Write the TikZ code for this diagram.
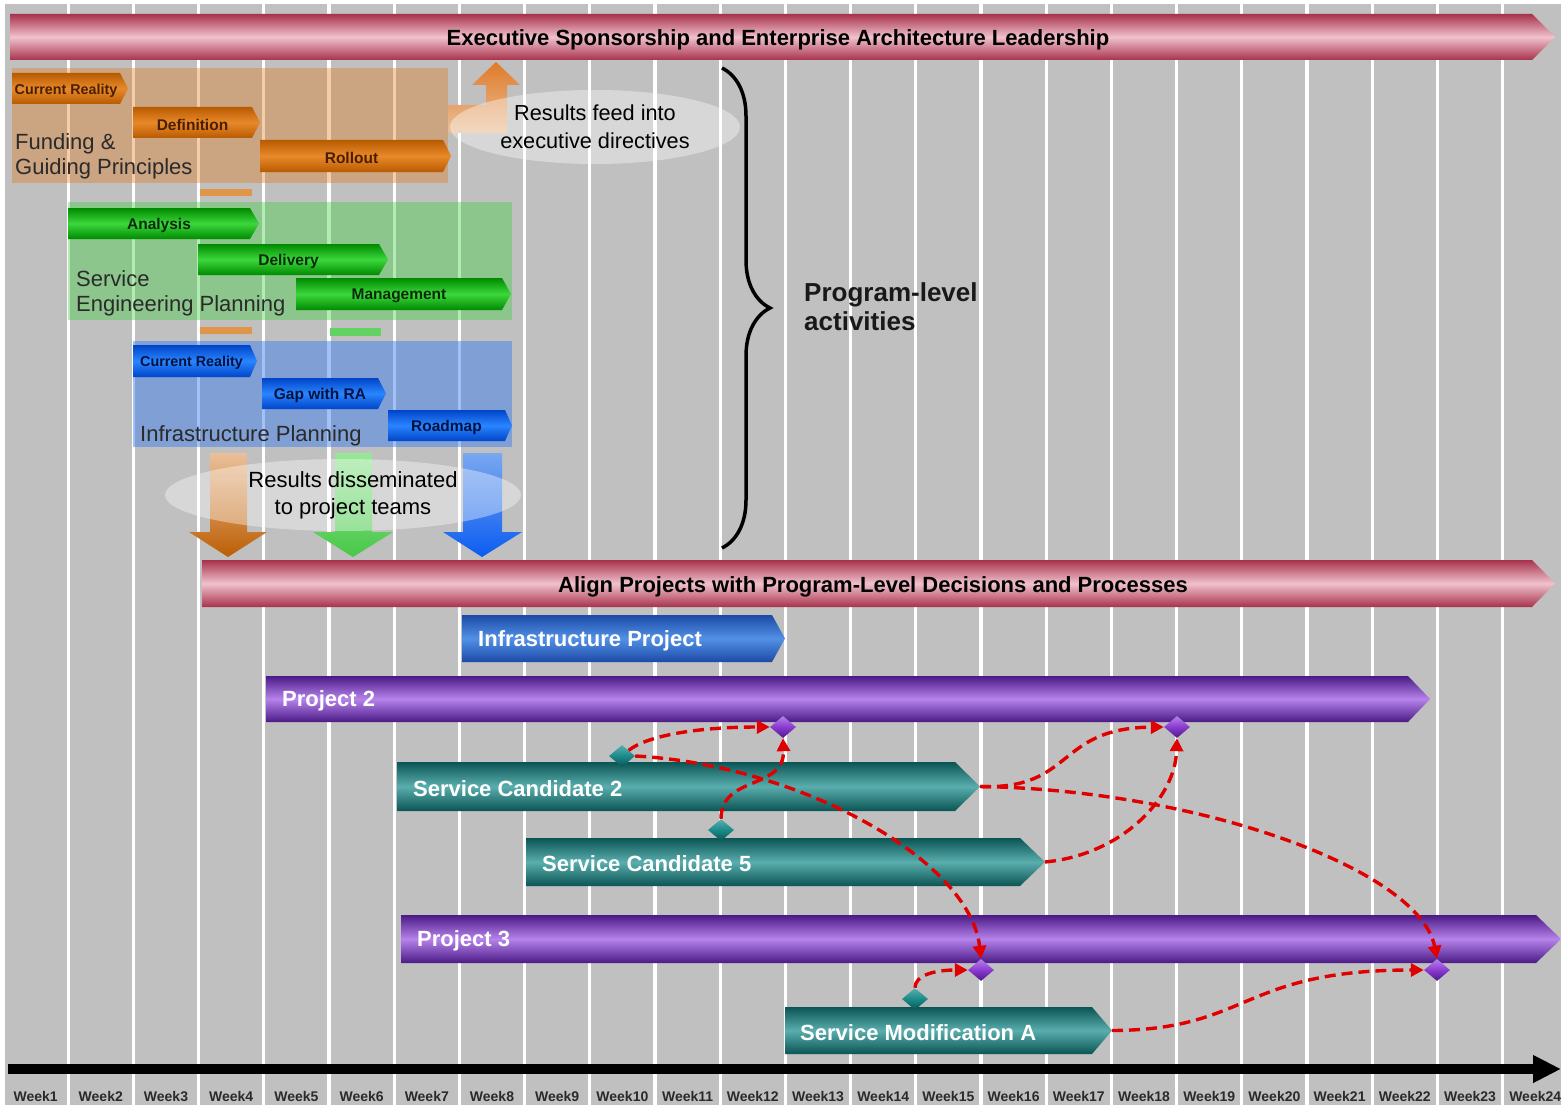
\documentclass[tikz,border=0pt]{standalone}
\usepackage{fontspec}
\setmainfont{Liberation Sans}
\usetikzlibrary{arrows.meta,shapes.geometric,decorations.pathreplacing}

\definecolor{bggray}{HTML}{C0C0C0}
\definecolor{bandark}{HTML}{A8324C}
\definecolor{bandmid}{HTML}{F0C2CD}
\definecolor{orgdark}{HTML}{B85A00}
\definecolor{orgmid}{HTML}{E88A2A}
\definecolor{orggrp}{HTML}{E07010}
\definecolor{orgtop}{HTML}{E07A2A}
\definecolor{orglight}{HTML}{EAC09A}
\definecolor{grndark}{HTML}{008A00}
\definecolor{grnmid}{HTML}{3CD83C}
\definecolor{grngrp}{HTML}{40D040}
\definecolor{grnlight}{HTML}{9AE69A}
\definecolor{grnarrow}{HTML}{48C848}
\definecolor{bludark}{HTML}{0045C8}
\definecolor{blumid}{HTML}{2A85FF}
\definecolor{blugrp}{HTML}{3377EE}
\definecolor{blulight}{HTML}{7AA8F0}
\definecolor{bluarrow}{HTML}{0A5CF0}
\definecolor{ipdark}{HTML}{1C4AA6}
\definecolor{ipmid}{HTML}{5290E6}
\definecolor{purdark}{HTML}{4C1A86}
\definecolor{purmid}{HTML}{B583EA}
\definecolor{purdiam}{HTML}{8A3AD0}
\definecolor{tealdark}{HTML}{0B5454}
\definecolor{tealmid}{HTML}{5AAEAE}
\definecolor{tealdiam}{HTML}{1A8A8A}
\definecolor{depred}{HTML}{E00000}
\definecolor{txtgray}{HTML}{2A2A2A}
\definecolor{orgtxt}{HTML}{4A1E00}
\definecolor{grntxt}{HTML}{0A2A0A}
\definecolor{blutxt}{HTML}{00123F}

% bar with a pointed right end: name, x-left, x-right, tip length, y-top, y-bottom, style
\newcommand\gbar[7]{%
  \path[#7] (#2,#5) -- ({#3-#4},#5) -- (#3,{(#5+#6)/2}) -- ({#3-#4},#6) -- (#2,#6) -- cycle;
  \coordinate (#1-w) at (#2,{(#5+#6)/2});
  \coordinate (#1-e) at (#3,{(#5+#6)/2});
  \coordinate (#1-c) at ({(#2+#3-#4)/2},{(#5+#6)/2});
}

\begin{document}
\begin{tikzpicture}[x=1pt,y=-1pt,
  banner/.style={top color=bandark, bottom color=bandark, middle color=bandmid},
  orgbar/.style={top color=orgdark, bottom color=orgdark, middle color=orgmid},
  grnbar/.style={top color=grndark, bottom color=grndark, middle color=grnmid},
  blubar/.style={top color=bludark, bottom color=bludark, middle color=blumid},
  ipbar/.style={top color=ipdark, bottom color=ipdark, middle color=ipmid},
  purbar/.style={top color=purdark, bottom color=purdark, middle color=purmid},
  tealbar/.style={top color=tealdark, bottom color=tealdark, middle color=tealmid},
  smalltxt/.style={font=\fontsize{15.5}{17}\selectfont\bfseries, inner sep=0pt, yshift=-2pt},
  tighttxt/.style={smalltxt, font=\fontsize{14.3}{17}\selectfont\bfseries},
  bigtxt/.style={font=\fontsize{22}{26}\selectfont\bfseries, text=white, inner sep=0pt, anchor=west, yshift=-2pt},
  bantxt/.style={font=\fontsize{22}{26}\selectfont\bfseries, text=black, inner sep=0pt, yshift=-2.5pt},
  grptxt/.style={font=\fontsize{22}{25}\selectfont, text=txtgray, inner sep=0pt, align=left, anchor=west, yshift=-2pt},
  haze/.style={ellipse, fill=white, fill opacity=0.38, text opacity=1, inner sep=0pt,
    font=\fontsize{21.7}{28}\selectfont, text=black, align=center},
  pdiam/.style={diamond, minimum width=26pt, minimum height=22pt, inner sep=0pt,
    top color=purmid, bottom color=purdark, middle color=purdiam},
  tdiam/.style={diamond, minimum width=26pt, minimum height=22pt, inner sep=0pt,
    top color=tealmid, bottom color=tealdark, middle color=tealdiam},
  dep/.style={draw=depred, line width=3.4pt, dash pattern=on 11pt off 6pt,
    -{Triangle[length=13pt,width=13pt]}},
  weeklbl/.style={font=\fontsize{14}{15}\selectfont\bfseries, text=txtgray, inner sep=0pt, yshift=-1pt}
]
\useasboundingbox (0,0) rectangle (1561,1105);
\clip (0,0) rectangle (1561,1105);

% canvas and week grid
\fill[white] (0,0) rectangle (1561,1105);
\fill[bggray] (5,4) rectangle (1561,1105);
\foreach \k in {1,...,23} \fill[white] ({3+65.2*\k-1.6},4) rectangle ({3+65.2*\k+1.6},1105);

% program-level groups
\fill[orggrp, fill opacity=0.35] (12,68) rectangle (448,183);
\fill[grngrp, fill opacity=0.40] (68,202) rectangle (512,320);
\fill[blugrp, fill opacity=0.45] (133,341) rectangle (512,447);

% hand-off markers between groups
\fill[orgmid!80!bggray] (200,189) rectangle (252,196);
\fill[orgmid!80!bggray] (200,327) rectangle (252,334);
\fill[grnmid!70!bggray] (330,328) rectangle (381,336);

% results feeding upward
\path[top color=orgtop, bottom color=orglight] (448,105) -- (486,105) -- (486,85) -- (472,85)
  -- (496,62) -- (520,85) -- (507,85) -- (507,133) -- (448,133) -- cycle;
\node[haze, minimum width=290pt, minimum height=74pt] (feed) at (595,127)
  {Results feed into\\executive directives};

% funding & guiding principles
\gbar{fcr}{12}{128}{8}{73}{104}{orgbar}
\gbar{fdef}{133}{260}{8}{107}{138}{orgbar}
\gbar{frol}{260}{451}{8}{140}{172}{orgbar}
\node[tighttxt, text=orgtxt] (lfcr) at (fcr-c) {Current Reality};
\node[smalltxt, text=orgtxt] (lfdef) at (fdef-c) {Definition};
\node[smalltxt, text=orgtxt] (lfrol) at (frol-c) {Rollout};
\node[grptxt] (gfund) at (15,154) {Funding \&\\Guiding Principles};

% service engineering planning
\gbar{sana}{68}{259}{9}{208}{239}{grnbar}
\gbar{sdel}{198}{388}{9}{244}{275}{grnbar}
\gbar{sman}{296}{511}{9}{278}{310}{grnbar}
\node[smalltxt, text=grntxt] (lsana) at (sana-c) {Analysis};
\node[smalltxt, text=grntxt] (lsdel) at (sdel-c) {Delivery};
\node[smalltxt, text=grntxt] (lsman) at (sman-c) {Management};
\node[grptxt] (gserv) at (76,291) {Service\\Engineering Planning};

% infrastructure planning
\gbar{icr}{133}{257}{7}{345}{377}{blubar}
\gbar{igap}{262}{386}{8}{378}{409}{blubar}
\gbar{iroad}{388}{512}{7}{410}{441}{blubar}
\node[tighttxt, text=blutxt] (licr) at (icr-c) {Current Reality};
\node[smalltxt, text=blutxt] (ligap) at (igap-c) {Gap with RA};
\node[smalltxt, text=blutxt] (liroad) at (iroad-c) {Roadmap};
\node[grptxt] (ginfra) at (140,434) {Infrastructure Planning};

% results passed down to the projects
\path[top color=orglight, bottom color=orgdark!90!orgmid] (210,453) -- (247,453) -- (247,532) -- (267,532)
  -- (228,557) -- (189,532) -- (210,532) -- cycle;
\path[top color=grnlight, bottom color=grnarrow] (335,453) -- (372,453) -- (372,532) -- (393,532)
  -- (353,557) -- (313,532) -- (335,532) -- cycle;
\path[top color=blulight, bottom color=bluarrow] (463,453) -- (502,453) -- (502,532) -- (522,532)
  -- (482,557) -- (443,532) -- (463,532) -- cycle;
\node[haze, minimum width=356pt, minimum height=72pt] (dissem) at (343,495) {};
\node[inner sep=0pt, font=\fontsize{22}{27}\selectfont, align=center] (dissemtxt) at (353,495)
  {Results disseminated\\to project teams};

% program-level brace
\coordinate (brtop) at (722,68);
\coordinate (brbot) at (722,548);
\draw[decorate, decoration={brace, amplitude=48pt, aspect=0.5}, line width=3.5pt] (brtop) -- (brbot);
\node[inner sep=0pt, anchor=west, align=left, text=black!90, font=\fontsize{26}{29}\selectfont\bfseries] (prog) at (804,307)
  {Program-level\\activities};

% leadership and alignment banners
\gbar{exec}{10}{1555}{23}{14}{60}{banner}
\node[bantxt] (lexec) at (778,37) {Executive Sponsorship and Enterprise Architecture Leadership};
\gbar{align}{202}{1555}{23}{560}{607}{banner}
\node[bantxt] (lalign) at (873,584) {Align Projects with Program-Level Decisions and Processes};

% projects and services
\gbar{ip}{462}{785}{13}{615}{662}{ipbar}
\gbar{p2}{266}{1430}{22}{676}{722}{purbar}
\gbar{sc2}{397}{980}{25}{762}{811}{tealbar}
\gbar{sc5}{526}{1045}{25}{838}{886}{tealbar}
\gbar{p3}{401}{1561}{25}{915}{963}{purbar}
\gbar{sma}{785}{1112}{20}{1007}{1054}{tealbar}
\node[bigtxt] (lip) at ([xshift=16pt]ip-w) {Infrastructure Project};
\node[bigtxt] (lp2) at ([xshift=16pt]p2-w) {Project 2};
\node[bigtxt] (lsc2) at ([xshift=16pt]sc2-w) {Service Candidate 2};
\node[bigtxt] (lsc5) at ([xshift=16pt]sc5-w) {Service Candidate 5};
\node[bigtxt] (lp3) at ([xshift=16pt]p3-w) {Project 3};
\node[bigtxt] (lsma) at ([xshift=15pt]sma-w) {Service Modification A};

% milestones
\node[pdiam] (p2a) at (783,727) {};
\node[pdiam] (p2b) at (1177,727) {};
\node[pdiam] (p3a) at (981,970) {};
\node[pdiam] (p3b) at (1437,970) {};
\node[tdiam] (sc2m) at (622,756) {};
\node[tdiam] (sc5m) at (721,830) {};
\node[tdiam] (smam) at (915,999) {};

% dependencies
\draw[dep] (sc2m.north east) .. controls (648,735) and (700,727) .. (p2a.west);
\draw[dep] (sc2m.east) .. controls (800,765) and (970,860) .. (p3a.north);
\draw[dep] (sc5m.north) .. controls (721,775) and (785,790) .. (p2a.south);
\draw[dep] (sc2-e) .. controls (1075,790) and (1055,728) .. (p2b.west);
\draw[dep] (sc2-e) .. controls (1200,790) and (1420,870) .. (p3b.north);
\draw[dep] (sc5-e) .. controls (1120,855) and (1175,800) .. (p2b.south);
\draw[dep] (smam.north) .. controls (915,975) and (935,970) .. (p3a.west);
\draw[dep] (sma-e) .. controls (1250,1030) and (1240,970) .. (p3b.west);

% time axis
\coordinate (axstart) at (8,1069);
\coordinate (axend) at (1561,1069);
\draw[line width=10pt, -{Triangle[length=28pt,width=26pt]}] (axstart) -- (axend);
\foreach \i in {1,...,24} \node[weeklbl] (wk\i) at ({3+65.2*(\i-0.5)},1095) {Week\i};
\end{tikzpicture}
\end{document}
